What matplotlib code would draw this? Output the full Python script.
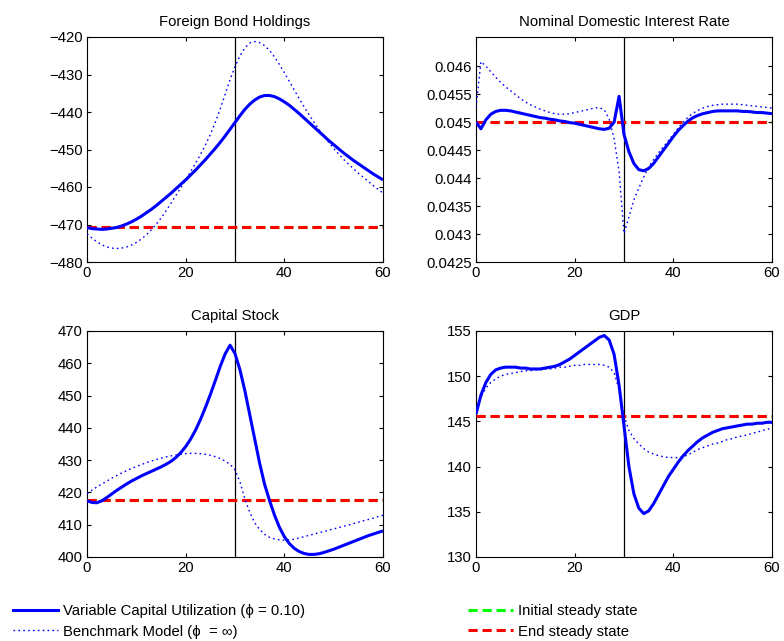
import numpy as np
import matplotlib
matplotlib.use("Agg")
import matplotlib.pyplot as plt
from matplotlib.lines import Line2D
from matplotlib.ticker import FuncFormatter

plt.rcParams['font.family'] = ['Liberation Sans', 'DejaVu Sans']

periods = list(range(61))

titles = ["Foreign Bond Holdings", "Nominal Domestic Interest Rate", "Capital Stock", "GDP"]

fb_vcu = [-470.8, -471.1, -471.2, -471.3, -471.2, -471.0, -470.8, -470.4, -469.9, -469.3,
          -468.6, -467.8, -466.9, -466.0, -465.0, -463.9, -462.8, -461.7, -460.5, -459.3,
          -458.1, -456.8, -455.5, -454.1, -452.7, -451.2, -449.7, -448.1, -446.4, -444.6,
          -442.8, -441.0, -439.3, -437.9, -436.8, -436.0, -435.6, -435.6, -435.9, -436.5,
          -437.3, -438.2, -439.3, -440.4, -441.6, -442.8, -444.0, -445.2, -446.4, -447.6,
          -448.7, -449.8, -450.9, -451.9, -452.9, -453.8, -454.7, -455.6, -456.5, -457.3,
          -458.1]
fb_bench = [-472.5, -473.6, -474.6, -475.4, -476.0, -476.3, -476.4, -476.3, -476.0, -475.5,
            -474.8, -473.9, -472.8, -471.5, -470.0, -468.3, -466.4, -464.4, -462.3, -460.2,
            -458.1, -455.9, -453.7, -451.3, -448.8, -446.0, -442.8, -439.2, -435.3, -431.4,
            -427.9, -425.0, -422.9, -421.6, -421.2, -421.5, -422.3, -423.6, -425.3, -427.3,
            -429.5, -431.8, -434.1, -436.4, -438.6, -440.7, -442.7, -444.6, -446.4, -448.1,
            -449.7, -451.2, -452.6, -453.9, -455.1, -456.3, -457.4, -458.5, -459.6, -460.6,
            -461.6]

ir_vcu = [0.04500, 0.04488, 0.04504, 0.04514, 0.04519, 0.04521, 0.04521, 0.04520, 0.04518, 0.04516,
          0.04514, 0.04512, 0.04510, 0.04508, 0.04507, 0.04505, 0.04504, 0.04502, 0.04501, 0.04499,
          0.04498, 0.04496, 0.04494, 0.04492, 0.04490, 0.04488, 0.04487, 0.04489, 0.04500, 0.04546,
          0.04478, 0.04447, 0.04426, 0.04415, 0.04413, 0.04417, 0.04426, 0.04438, 0.04450, 0.04462,
          0.04474, 0.04485, 0.04494, 0.04502, 0.04508, 0.04512, 0.04515, 0.04517, 0.04519, 0.04520,
          0.04520, 0.04520, 0.04520, 0.04520, 0.04519, 0.04519, 0.04518, 0.04517, 0.04517, 0.04516,
          0.04515]
ir_bench = [0.04526, 0.04608, 0.04600, 0.04590, 0.04580, 0.04571, 0.04563, 0.04556, 0.04549, 0.04542,
            0.04536, 0.04531, 0.04527, 0.04523, 0.04520, 0.04517, 0.04515, 0.04514, 0.04514, 0.04515,
            0.04517, 0.04519, 0.04521, 0.04523, 0.04525, 0.04526, 0.04522, 0.04505, 0.04470, 0.04412,
            0.04301, 0.04330, 0.04361, 0.04382, 0.04402, 0.04420, 0.04433, 0.04445, 0.04456, 0.04467,
            0.04478, 0.04490, 0.04500, 0.04509, 0.04516, 0.04521, 0.04525, 0.04528, 0.04530, 0.04531,
            0.04532, 0.04532, 0.04532, 0.04532, 0.04531, 0.04530, 0.04529, 0.04528, 0.04527, 0.04526,
            0.04525]

k_vcu = [417.4, 416.9, 416.8, 417.4, 418.4, 419.5, 420.6, 421.6, 422.6, 423.5,
         424.3, 425.1, 425.8, 426.5, 427.2, 427.9, 428.7, 429.6, 430.8, 432.3,
         434.2, 436.5, 439.3, 442.6, 446.3, 450.3, 454.6, 459.0, 462.9, 465.6,
         463.0, 458.0, 451.5, 444.0, 436.5, 429.0, 422.5, 417.5, 413.0, 409.2,
         406.3, 404.2, 402.7, 401.7, 401.1, 400.8, 400.8, 401.0, 401.4, 401.9,
         402.4, 403.0, 403.6, 404.2, 404.8, 405.4, 406.0, 406.6, 407.1, 407.6,
         408.1]
k_bench = [419.6, 420.7, 421.7, 422.6, 423.5, 424.4, 425.2, 426.0, 426.7, 427.4,
           428.0, 428.6, 429.2, 429.7, 430.2, 430.6, 431.0, 431.3, 431.6, 431.8,
           432.0, 432.1, 432.1, 432.0, 431.8, 431.5, 431.1, 430.5, 429.7, 428.7,
           427.0, 423.3, 418.0, 413.8, 410.6, 408.5, 407.0, 406.1, 405.6, 405.3,
           405.2, 405.3, 405.5, 405.9, 406.3, 406.7, 407.1, 407.5, 407.9, 408.3,
           408.7, 409.1, 409.5, 409.9, 410.3, 410.8, 411.2, 411.6, 412.0, 412.5,
           412.9]

y_vcu = [145.8, 147.9, 149.3, 150.2, 150.7, 150.9, 151.0, 151.0, 151.0, 150.9,
         150.9, 150.8, 150.8, 150.8, 150.9, 151.0, 151.1, 151.3, 151.6, 151.9,
         152.3, 152.7, 153.1, 153.5, 153.9, 154.3, 154.5, 154.0, 152.4, 149.0,
         144.5, 140.0, 137.0, 135.4, 134.8, 135.1, 135.9, 136.9, 137.9, 138.9,
         139.7, 140.5, 141.2, 141.8, 142.3, 142.8, 143.2, 143.5, 143.8, 144.0,
         144.2, 144.3, 144.4, 144.5, 144.6, 144.7, 144.7, 144.8, 144.8, 144.9,
         144.9]
y_bench = [145.8, 147.7, 148.7, 149.3, 149.7, 150.0, 150.2, 150.3, 150.4, 150.5,
           150.6, 150.6, 150.7, 150.7, 150.8, 150.8, 150.9, 151.0, 151.0, 151.1,
           151.2, 151.2, 151.3, 151.3, 151.3, 151.3, 151.2, 151.0, 150.4, 148.5,
           145.6, 144.0, 143.1, 142.5, 142.0, 141.6, 141.4, 141.2, 141.1, 141.0,
           141.0, 141.0, 141.1, 141.3, 141.6, 141.9, 142.1, 142.3, 142.5, 142.6,
           142.8, 143.0, 143.1, 143.3, 143.4, 143.5, 143.7, 143.8, 144.0, 144.1,
           144.3]

init_ss = [-470.7, 0.0450, 417.6, 145.6]
end_ss = [-470.7, 0.0450, 417.6, 145.6]

shock_period = 30
xticks = [0, 20, 40, 60]
yticks = [[-480, -470, -460, -450, -440, -430, -420],
          [0.0425, 0.043, 0.0435, 0.044, 0.0445, 0.045, 0.0455, 0.046],
          [400, 410, 420, 430, 440, 450, 460, 470],
          [130, 135, 140, 145, 150, 155]]
ylims = [(-480, -420), (0.0425, 0.04652), (400, 470), (130, 155)]

vcu_series = [fb_vcu, ir_vcu, k_vcu, y_vcu]
bench_series = [fb_bench, ir_bench, k_bench, y_bench]

labels = ["Variable Capital Utilization (\u03d5 = 0.10)",
          "Benchmark Model (\u03d5  = \u221e)",
          "Initial steady state",
          "End steady state"]

W, H = 784, 641
fig = plt.figure(figsize=(W / 100, H / 100), dpi=100)

# axes boxes in pixels: left, top, right, bottom
boxes = [(87, 37, 383, 262), (476, 37, 772, 262),
         (87, 331, 383, 557), (476, 331, 772, 557)]

FS = 10.7
DOT = (1.2, 2.3)
DASH = (3, 1.6)
for i, (l, t, r, b) in enumerate(boxes):
    ax = fig.add_axes([l / W, 1 - b / H, (r - l) / W, (b - t) / H])
    x = np.array(periods)
    ax.axvline(shock_period, color='black', lw=0.9, zorder=1)
    ax.plot(x, np.full(len(x), init_ss[i]), color='#00ff00', lw=2.2, dashes=DASH, zorder=2)
    ax.plot(x, np.full(len(x), end_ss[i]), color='#ff0000', lw=2.2, dashes=DASH, zorder=3)
    ax.plot(x, bench_series[i], color='blue', lw=1.0, dashes=DOT, zorder=4)
    ax.plot(x, vcu_series[i], color='blue', lw=2.2, zorder=5, solid_capstyle='butt')
    ax.set_xlim(0, 60)
    ax.set_ylim(*ylims[i])
    ax.set_xticks(xticks)
    ax.set_yticks(yticks[i])
    ax.yaxis.set_major_formatter(FuncFormatter(lambda v, p: ('%g' % v).replace('-', '\u2212')))
    ax.tick_params(direction='in', length=3, width=0.8, top=True, right=True,
                   labelsize=FS, pad=3)
    for s in ax.spines.values():
        s.set_linewidth(0.8)
    ax.set_title(titles[i], fontsize=FS, pad=8)

h_vcu = Line2D([], [], color='blue', lw=2.2)
h_bench = Line2D([], [], color='blue', lw=1.0, dashes=DOT)
h_init = Line2D([], [], color='#00ff00', lw=2.2, dashes=DASH)
h_end = Line2D([], [], color='#ff0000', lw=2.2, dashes=DASH)

leg_kw = dict(loc='upper left', frameon=False, fontsize=FS, borderpad=0,
              borderaxespad=0, handlelength=3.0, handletextpad=0.35, labelspacing=0.45)
fig.legend([h_vcu, h_bench], labels[:2], bbox_to_anchor=(13 / W, 1 - 604 / H), **leg_kw)
fig.legend([h_init, h_end], labels[2:], bbox_to_anchor=(468 / W, 1 - 604 / H), **leg_kw)

fig.savefig("out.png", dpi=100)
